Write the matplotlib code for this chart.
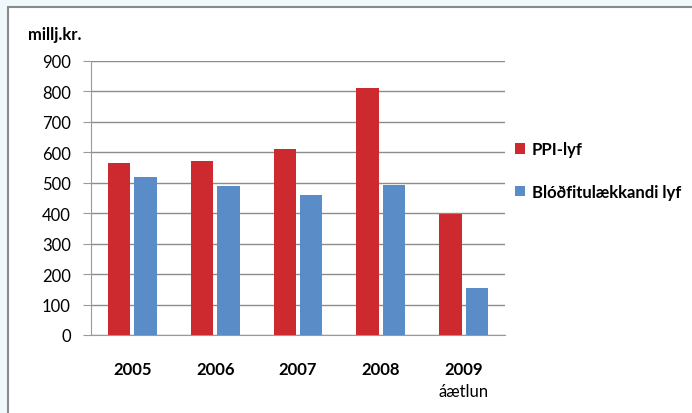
import numpy as np
import matplotlib.pyplot as plt
from matplotlib.patches import Rectangle

plt.rcParams['font.family'] = ['Lato', 'DejaVu Sans']

years = ['2005', '2006', '2007', '2008', '2009']
ppi = [566, 572, 611, 810, 397]
blod = [520, 490, 460, 493, 153]
series_names = ['PPI-lyf', 'Blóðfitulækkandi lyf']

red = '#CC2A2E'
blue = '#5A8CC8'

fig = plt.figure(figsize=(6.92, 4.14), dpi=100)
fig.patch.set_facecolor('#F1F8FC')

# white chart frame, cut off at right and bottom
frame = Rectangle((8 / 692, -0.1), 1.0, (414 - 8) / 414 + 0.1,
                  transform=fig.transFigure, facecolor='white',
                  edgecolor='#8A8A8A', linewidth=1.5, zorder=-1)
fig.patches.append(frame)

ax = fig.add_axes([91 / 692, 1 - 336 / 414, (505 - 91) / 692, (336 - 62) / 414])
ax.set_zorder(2)
ax.set_facecolor('white')

x = np.arange(len(years))
w = 0.27
ax.bar(x - 0.16, ppi, w, color=red, label=series_names[0], zorder=3)
ax.bar(x + 0.16, blod, w, color=blue, label=series_names[1], zorder=3)

ax.set_xlim(-0.5, 4.5)
ax.set_ylim(0, 900)
ax.set_yticks(range(0, 901, 100))
ax.yaxis.grid(True, color='#8C8C8C', linewidth=1, zorder=0)
for s in ['top', 'right']:
    ax.spines[s].set_visible(False)
ax.spines['left'].set_color('#9A9A9A')
ax.spines['bottom'].set_color('#9A9A9A')
ax.tick_params(axis='y', length=6, color='#9A9A9A', labelsize=12, pad=8.5)
ax.tick_params(axis='x', length=0, pad=19)
ax.set_xticks(x)
ax.set_xticklabels(years, fontsize=12, fontweight='bold')

ax.text(4, -157, 'áætlun', ha='center', va='top', fontsize=12)
fig.text(28 / 692, 1 - 35 / 414, 'millj.kr.', fontsize=12, fontweight='bold',
         va='center', ha='left')

leg = ax.legend(loc='center left', bbox_to_anchor=(1.0, 0.6), frameon=False,
                borderaxespad=0.2, fontsize=12, handlelength=0.6,
                handleheight=0.6, handletextpad=0.4, labelspacing=1.6)
for t in leg.get_texts():
    t.set_fontweight('bold')

plt.savefig('out.png', dpi=100, facecolor=fig.get_facecolor())
